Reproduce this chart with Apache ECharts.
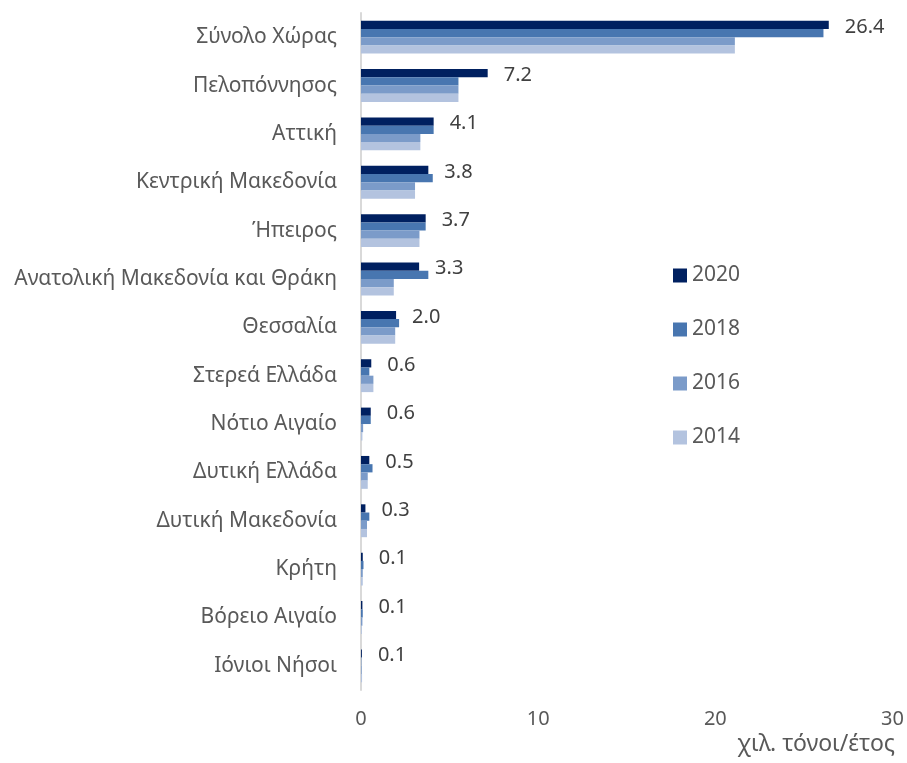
<!DOCTYPE html>
<html><head><meta charset="utf-8">
<script src="https://cdn.jsdelivr.net/npm/echarts@6/dist/echarts.min.js"></script>
<style>html,body{margin:0;padding:0;background:#fff}#c{width:907px;height:763px}</style>
</head><body><div id="c"></div>
<script>
const categories = ["Σύνολο Χώρας","Πελοπόννησος","Αττική","Κεντρική Μακεδονία","Ήπειρος","Ανατολική Μακεδονία και Θράκη","Θεσσαλία","Στερεά Ελλάδα","Νότιο Αιγαίο","Δυτική Ελλάδα","Δυτική Μακεδονία","Κρήτη","Βόρειο Αιγαίο","Ιόνιοι Νήσοι"];
const years = ["2020","2018","2016","2014"];
const v2020 = [26.4,7.15,4.1,3.8,3.65,3.28,1.98,0.58,0.55,0.47,0.25,0.1,0.08,0.05];
const v2018 = [26.1,5.5,4.1,4.05,3.65,3.8,2.15,0.47,0.55,0.65,0.47,0.14,0.1,0.02];
const v2016 = [21.1,5.5,3.35,3.05,3.3,1.85,1.93,0.7,0.12,0.38,0.34,0.1,0.08,0.04];
const v2014 = [21.1,5.5,3.35,3.05,3.3,1.85,1.93,0.7,0.08,0.38,0.34,0.1,0.05,0.06];
const xTicks = [0,10,20,30];
const colors = ["#002060","#4876b0","#7b9bc9","#b3c3df"];
const FONT = "Noto Sans";
const chart = echarts.init(document.getElementById('c'));
const vals = [v2020,v2018,v2016,v2014];
chart.setOption({
  animation:false,
  textStyle:{fontFamily:FONT},
  grid:{left:361,right:14,top:13,bottom:73,containLabel:false},
  legend:{orient:'vertical',left:668,top:260,itemWidth:14,itemHeight:14,itemGap:33,icon:'rect',
    data:years,textStyle:{fontFamily:FONT,fontSize:21,color:'#595959'}},
  xAxis:{type:'value',min:xTicks[0],max:xTicks[xTicks.length-1],interval:10,
    axisLine:{show:false},axisTick:{show:false},splitLine:{show:false},
    axisLabel:{fontFamily:FONT,fontSize:20,color:'#595959',margin:19}},
  yAxis:{type:'category',data:categories,inverse:true,
    axisLine:{show:true,lineStyle:{color:'#d9d9d9',width:2}},axisTick:{show:false},
    axisLabel:{fontFamily:FONT,fontSize:21,color:'#595959',margin:24}},
  graphic:[{type:'text',right:12,top:733,style:{text:'χιλ. τόνοι/έτος',fontFamily:FONT,fontSize:23,fill:'#595959'}}],
  series: years.map((y,i)=>({
    name:y,type:'bar',data:vals[i],barGap:'0%',barCategoryGap:'32%',
    itemStyle:{color:colors[i]},
    label: i===0 ? {show:true,position:'right',distance:16,offset:[0,2],fontFamily:FONT,fontSize:20,color:'#404040',
      formatter:p=>(Math.round(p.value*10)/10).toFixed(1)} : {show:false}
  }))
});
</script></body></html>
